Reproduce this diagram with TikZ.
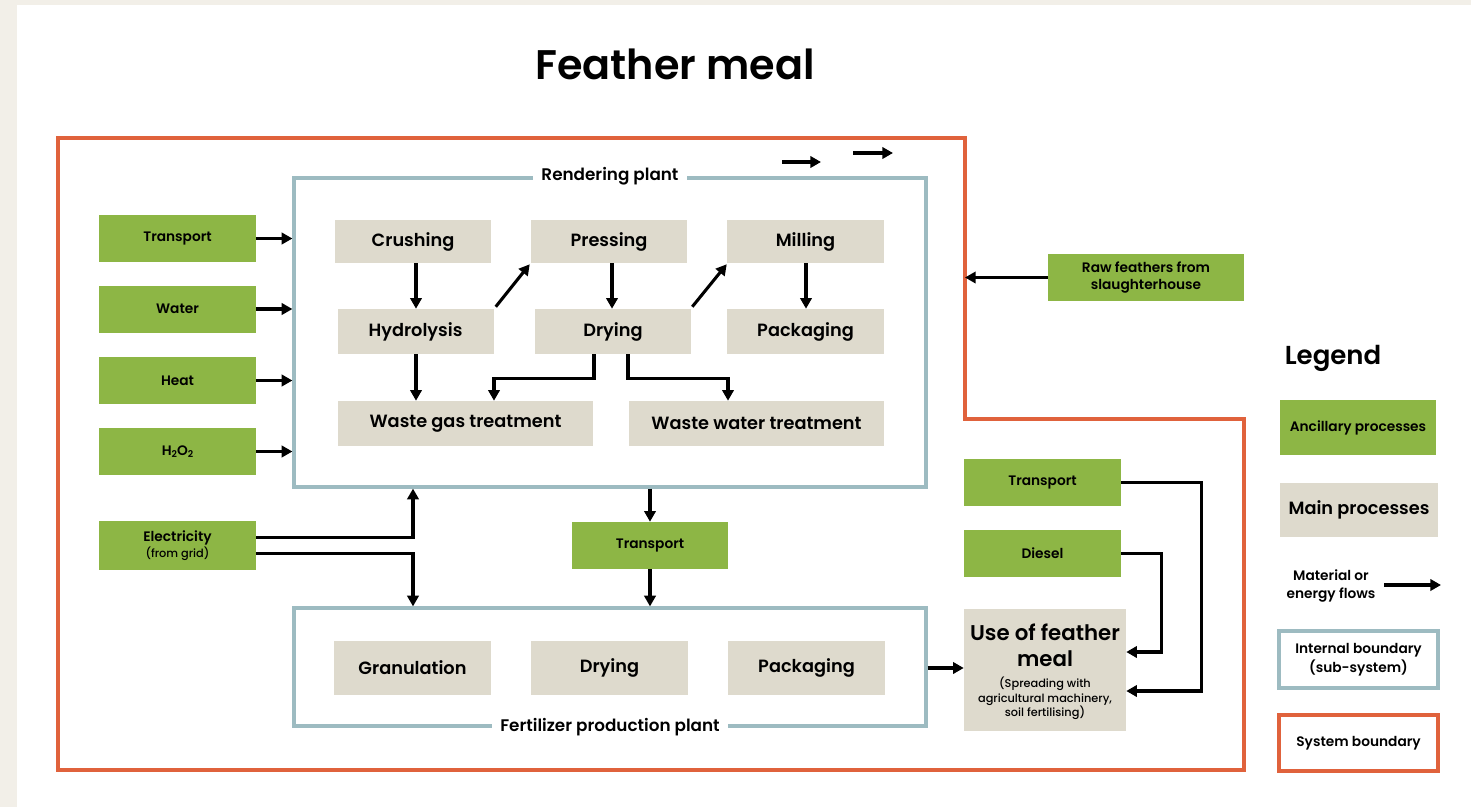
\documentclass[tikz,border=0pt]{standalone}
\usepackage{fontspec}
\setmainfont{Poppins}[UprightFont=* SemiBold, BoldFont=* SemiBold]
\newfontfamily\notefont{Poppins}[UprightFont=* Medium]
\usetikzlibrary{arrows.meta,calc}
\definecolor{ancgreen}{RGB}{141,182,69}
\definecolor{mainbeige}{RGB}{222,218,205}
\definecolor{sysred}{RGB}{224,98,60}
\definecolor{subblue}{RGB}{157,187,193}
\definecolor{pagebeige}{RGB}{242,239,232}
\tikzset{
  flow/.style={line width=2.3pt,-{Triangle[length=8pt,width=8.5pt]}},
  ancbox/.style={fill=ancgreen,inner sep=0pt,align=center,font=\fontsize{10.3}{13}\selectfont,
    minimum width={157*0.75pt},minimum height={47*0.75pt}},
  mainbox/.style={fill=mainbeige,inner sep=0pt,align=center,font=\fontsize{13.3}{16}\selectfont,
    minimum width={156*0.75pt},minimum height={45*0.75pt}},
  subsys/.style={draw=subblue,line width=2.4pt,inner sep=0pt},
  sysline/.style={draw=sysred,line width=2.5pt},
  plantlabel/.style={fill=white,inner xsep=6pt,inner ysep=2pt,font=\fontsize{12.6}{15}\selectfont},
  legtext/.style={font=\fontsize{10.3}{14}\selectfont,align=center}
}
\begin{document}
\begin{tikzpicture}[x=0.75pt,y=-0.75pt]
% page
\fill[white] (0,0) rectangle (1471,807);
\fill[pagebeige] (0,0) rectangle (17,807);
\fill[pagebeige] (0,0) rectangle (1471,5);
\useasboundingbox (0,0) rectangle (1471,807);

% title
\node[font=\fontsize{31}{36}\selectfont\bfseries] (title) at (675,64) {Feather meal};

% system boundary
\coordinate (sbA) at (58,138);
\coordinate (sbB) at (965,138);
\coordinate (sbC) at (965,419);
\coordinate (sbD) at (1244,419);
\coordinate (sbE) at (1244,770);
\coordinate (sbF) at (58,770);
\draw[sysline] (sbA) -- (sbB) -- (sbC) -- (sbD) -- (sbE) -- (sbF) -- cycle;

% sub-systems
\node[subsys,minimum width={632*0.75pt},minimum height={309*0.75pt}] (rp) at (610,332.5) {};
\node[plantlabel] (rplab) at (rp.north) {Rendering plant};
\node[subsys,minimum width={632*0.75pt},minimum height={118*0.75pt}] (fp) at (610,667) {};
\node[plantlabel] (fplab) at (fp.south) {Fertilizer production plant};

% rendering plant processes
\node[mainbox,minimum height={43*0.75pt}] (cr) at (413,241.5) {Crushing};
\node[mainbox,minimum height={43*0.75pt}] (pr) at (609,241.5) {Pressing};
\node[mainbox,minimum height={43*0.75pt},minimum width={157*0.75pt}] (mi) at (805.5,241.5) {Milling};
\node[mainbox] (hy) at (415.5,331.5) {Hydrolysis};
\node[mainbox] (dr) at (613,331.5) {Drying};
\node[mainbox,minimum width={157*0.75pt}] (pa) at (805.5,331.5) {Packaging};
\node[mainbox,minimum width={255*0.75pt}] (wg) at (465.5,423.5) {Waste gas treatment};
\node[mainbox,minimum width={255*0.75pt}] (ww) at (756.5,423.5) {Waste water treatment};

\draw[flow] (cr.south -| 416,0) -- (416,0 |- hy.north);
\draw[flow] ($(hy.north east)+(2,-2)$) -- ($(pr.south west)+(-1,1)$);
\draw[flow] (pr.south -| 612,0) -- (612,0 |- dr.north);
\draw[flow] ($(dr.north east)+(1,-2)$) -- ($(mi.south west)+(0,1)$);
\draw[flow] (mi.south -| 806,0) -- (806,0 |- pa.north);
\draw[flow] (hy.south -| 416,0) -- (416,0 |- wg.north);
\draw[flow] ($(dr.south)+(-19,0)$) -- ++(0,24) -| ($(wg.north)+(28.5,0)$);
\draw[flow] ($(dr.south)+(15,0)$) -- ++(0,24) -| ($(ww.north)+(-28.5,0)$);

% ancillary inputs on the left
\node[ancbox] (tl) at (177.5,238.5) {Transport};
\node[ancbox] (wa) at (177.5,309) {Water};
\node[ancbox] (he) at (177.5,380.5) {Heat};
\node[ancbox] (hp) at (177.5,451.5) {H\raisebox{-0.35ex}{\fontsize{7}{8}\selectfont 2}O\raisebox{-0.35ex}{\fontsize{7}{8}\selectfont 2}};
\node[ancbox,minimum height={49*0.75pt}] (el) at (177.5,545.5)
  {Electricity\\[-1pt]{\notefont\fontsize{8.5}{11}\selectfont (from grid)}};
\foreach \n in {tl,wa,he,hp}
  \draw[flow] (\n.east) -- (\n.east -| rp.west);
\draw[flow] ($(el.east)+(0,-8)$) -| (rp.south -| cr.south);
\draw[flow] ($(el.east)+(0,8)$) -| (fp.north -| cr.south);

% transport between plants
\node[ancbox,minimum width={156*0.75pt}] (tm) at (650,545.5) {Transport};
\draw[flow] (rp.south -| tm.north) -- (tm.north);
\draw[flow] (tm.south) -- (fp.north -| tm.south);

% fertilizer production processes
\node[mainbox,minimum width={157*0.75pt},minimum height={54*0.75pt}] (gr) at (412.5,668) {Granulation};
\node[mainbox,minimum width={157*0.75pt},minimum height={54*0.75pt}] (fd) at (609.5,668) {Drying};
\node[mainbox,minimum width={157*0.75pt},minimum height={54*0.75pt}] (fk) at (806.5,668) {Packaging};

% use phase
\node[fill=mainbeige,inner sep=0pt,minimum width={162*0.75pt},minimum height={122*0.75pt}] (use) at (1045,670) {};
\node[align=center,font=\fontsize{16}{19.5}\selectfont,anchor=north] (uset) at (1045,619)
  {Use of feather\\meal};
\node[align=center,font=\notefont\fontsize{8.5}{11}\selectfont,anchor=north] (usesub) at ($(uset.south)+(0,1)$)
  {(Spreading with\\agricultural machinery,\\soil fertilising)};
\draw[flow] (fp.east |- 0,668) -- (use.west |- 0,668);

\node[ancbox] (tr) at (1042.5,482.5) {Transport};
\node[ancbox] (ds) at (1042.5,553.5) {Diesel};
\draw[flow] (tr.east) -- ++(80,0) |- ($(use.east)+(0,21)$);
\draw[flow] (ds.east) -- ++(40,0) |- ($(use.east)+(0,-18)$);

% raw material input
\node[ancbox,minimum width={196*0.75pt}] (raw) at (1146,277.5) {Raw feathers from\\slaughterhouse};
\draw[flow] (raw.west) -- (raw.west -| sbB);

% flow arrows above the rendering plant
\coordinate (fa1) at (782,162);
\coordinate (fa2) at (821,162);
\coordinate (fb1) at (853,153);
\coordinate (fb2) at (893,153);
\draw[flow] (fa1) -- (fa2);
\draw[flow] (fb1) -- (fb2);

% legend
\node[font=\fontsize{19.5}{23}\selectfont\bfseries] (leg) at (1333,358) {Legend};
\node[ancbox,minimum width={156*0.75pt},minimum height={55*0.75pt}] (lanc) at (1358,427.5) {Ancillary processes};
\node[mainbox,minimum width={158*0.75pt},minimum height={54*0.75pt}] (lmain) at (1359,510) {Main processes};
\node[legtext] (lflow) at (1331,586) {Material or\\energy flows};
\coordinate (lfa) at (1384,585);
\coordinate (lfb) at (1441,585);
\draw[flow] (lfa) -- (lfb);
\node[subsys,legtext,minimum width={159*0.75pt},minimum height={57*0.75pt}] (lint) at (1358.5,659.5)
  {Internal boundary\\(sub-system)};
\node[sysline,legtext,inner sep=0pt,minimum width={159*0.75pt},minimum height={56*0.75pt}] (lsys) at (1358.5,743)
  {System boundary};
\end{tikzpicture}
\end{document}
